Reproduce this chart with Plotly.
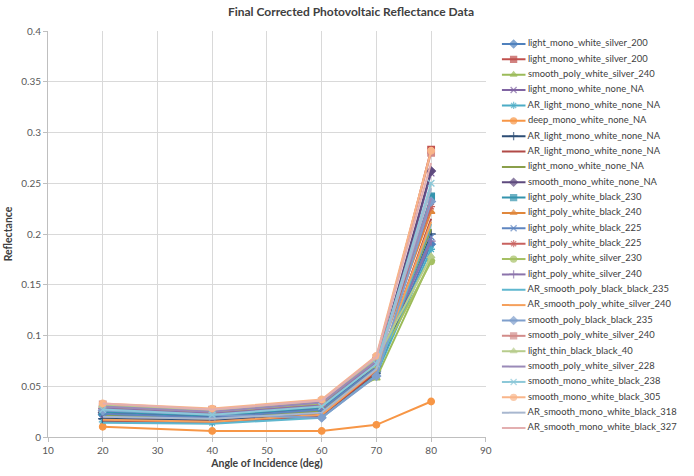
import plotly.graph_objects as go

angles = [20, 40, 60, 70, 80]

names = [
    "light_mono_white_silver_200",
    "light_mono_white_silver_200",
    "smooth_poly_white_silver_240",
    "light_mono_white_none_NA",
    "AR_light_mono_white_none_NA",
    "deep_mono_white_none_NA",
    "AR_light_mono_white_none_NA",
    "AR_light_mono_white_none_NA",
    "light_mono_white_none_NA",
    "smooth_mono_white_none_NA",
    "light_poly_white_black_230",
    "light_poly_white_black_240",
    "light_poly_white_black_225",
    "light_poly_white_black_225",
    "light_poly_white_silver_230",
    "light_poly_white_silver_240",
    "AR_smooth_poly_black_black_235",
    "AR_smooth_poly_white_silver_240",
    "smooth_poly_black_black_235",
    "smooth_poly_white_silver_240",
    "light_thin_black_black_40",
    "smooth_poly_white_silver_228",
    "smooth_mono_white_black_238",
    "smooth_mono_white_black_305",
    "AR_smooth_mono_white_black_318",
    "AR_smooth_mono_white_black_327",
]

values = [
    [0.022, 0.018, 0.025, 0.065, 0.190],
    [0.028, 0.024, 0.030, 0.075, 0.283],
    [0.026, 0.022, 0.030, 0.058, 0.175],
    [0.020, 0.017, 0.024, 0.065, 0.260],
    [0.015, 0.014, 0.020, 0.062, 0.185],
    [0.010, 0.006, 0.006, 0.012, 0.035],
    [0.018, 0.016, 0.022, 0.063, 0.200],
    [0.016, 0.015, 0.021, 0.064, 0.215],
    [0.021, 0.018, 0.026, 0.068, 0.205],
    [0.024, 0.020, 0.028, 0.070, 0.262],
    [0.025, 0.021, 0.029, 0.072, 0.237],
    [0.027, 0.023, 0.031, 0.074, 0.222],
    [0.023, 0.019, 0.027, 0.069, 0.197],
    [0.029, 0.024, 0.032, 0.076, 0.227],
    [0.030, 0.025, 0.033, 0.071, 0.173],
    [0.028, 0.023, 0.031, 0.073, 0.193],
    [0.014, 0.013, 0.019, 0.061, 0.210],
    [0.017, 0.015, 0.022, 0.066, 0.212],
    [0.026, 0.022, 0.019, 0.060, 0.232],
    [0.032, 0.027, 0.035, 0.078, 0.280],
    [0.031, 0.026, 0.036, 0.077, 0.178],
    [0.030, 0.025, 0.034, 0.075, 0.235],
    [0.027, 0.022, 0.030, 0.072, 0.250],
    [0.033, 0.028, 0.037, 0.080, 0.282],
    [0.020, 0.018, 0.024, 0.067, 0.245],
    [0.033, 0.027, 0.036, 0.079, 0.270],
]

colors = [
    "#4F81BD", "#C0504D", "#9BBB59", "#8064A2", "#4BACC6", "#F79646",
    "#2C4D75", "#B14A47", "#8A9F4A", "#5E4A7E", "#3494AD", "#E0873C",
    "#5F86C0", "#C8615E", "#A5C063", "#8B73AB", "#5FB7CF", "#F5A05C",
    "#7F9FCC", "#D28B89", "#B7CC8C", "#9A8AB8", "#8CC8D8", "#F9B589",
    "#A8B7CF", "#E3AFB0",
]

symbols = [
    "diamond", "square", "triangle-up", "x-thin-open", "asterisk-open", "circle",
    "cross-thin-open", None, None, "diamond", "square", "triangle-up",
    "x-thin-open", "asterisk-open", "circle", "cross-thin-open", None, None,
    "diamond", "square", "triangle-up", None, "x-thin-open", "circle",
    None, None,
]

FONT = "Lato, 'Open Sans', sans-serif"
fig = go.Figure()

for name, vals, col, sym in zip(names, values, colors, symbols):
    if sym is None:
        mode = "lines"
        marker = dict()
    else:
        mode = "lines+markers"
        marker = dict(symbol=sym, size=6.5, color=col, line=dict(color=col, width=1.3))
    fig.add_trace(go.Scatter(x=angles, y=vals, mode=mode, name=name,
                             line=dict(color=col, width=2), marker=marker,
                             showlegend=False, xaxis="x", yaxis="y"))

# manual legend drawn on a second pair of axes
for i, (name, col, sym) in enumerate(zip(names, colors, symbols)):
    if sym is None:
        mk = dict(size=[0, 0, 0], color=col)
    else:
        mk = dict(symbol=sym, size=[0, 6, 0], color=col, line=dict(color=col, width=1.3))
    fig.add_trace(go.Scatter(x=[0, 12, 24], y=[i, i, i], mode="lines+markers+text",
                             text=["", "", " " + name], textposition="middle right",
                             textfont=dict(family=FONT, size=9.4, color="#404040"),
                             line=dict(color=col, width=2), marker=mk,
                             showlegend=False, hoverinfo="skip",
                             xaxis="x2", yaxis="y2", cliponaxis=False))

W, H = 694, 476
ml, mr, mt, mb = 48, 4, 31, 39
pw = W - ml - mr
plot_right = 490
leg_left = 506

fig.update_layout(
    width=W, height=H,
    margin=dict(l=ml, r=mr, t=mt, b=mb),
    paper_bgcolor="white", plot_bgcolor="white",
    title=dict(text="<b>Final Corrected Photovoltaic Reflectance Data</b>",
               x=351 / W, xanchor="center", y=1 - 12 / H, yanchor="middle",
               font=dict(family=FONT, size=12, color="#404040")),
    font=dict(family=FONT, color="#595959"),
    xaxis=dict(domain=[0, (plot_right - ml) / pw], range=[10, 90], dtick=10,
               showgrid=True, gridcolor="#D9D9D9", gridwidth=1,
               showline=True, linecolor="#BFBFBF", zeroline=False,
               ticks="outside", ticklen=4, tickcolor="#BFBFBF",
               tickfont=dict(size=10, color="#595959"),
               title=dict(text="<b>Angle of Incidence (deg)</b>", standoff=4,
                          font=dict(size=10.5, color="#404040"))),
    yaxis=dict(domain=[0, 1], range=[0, 0.4], dtick=0.05,
               showgrid=True, gridcolor="#D9D9D9", gridwidth=1,
               showline=True, linecolor="#BFBFBF", zeroline=False,
               ticks="outside", ticklen=4, tickcolor="#BFBFBF",
               tickfont=dict(size=10, color="#595959"),
               title=dict(text="<b>Reflectance</b>", standoff=6,
                          font=dict(size=10.5, color="#404040"))),
    xaxis2=dict(domain=[(leg_left - ml) / pw, 1], range=[0, W - mr - leg_left],
                visible=False, anchor="y2", fixedrange=True),
    yaxis2=dict(domain=[0, 1], range=[25.586, -0.846], visible=False,
                anchor="x2", fixedrange=True),
)

fig.write_html("out.html", config={"displayModeBar": False},
               post_script="document.body.style.margin='0';document.body.style.overflow='hidden';")
